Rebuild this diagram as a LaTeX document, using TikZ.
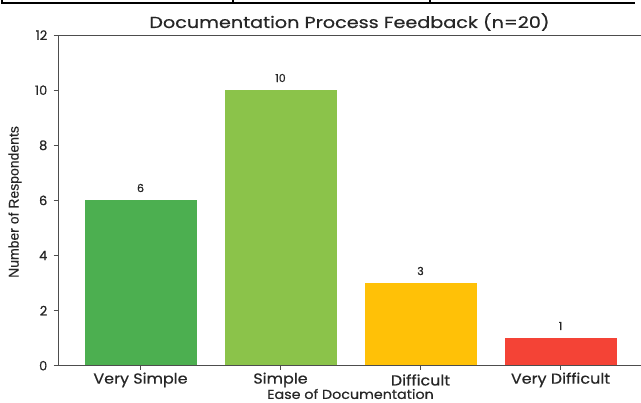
\documentclass[tikz,border=0pt]{standalone}
\usepackage{fontspec}
\setmainfont{Poppins}[FakeBold=0.5]
\newfontfamily\labfont{Liberation Sans}[FakeBold=0.3]
\definecolor{txt}{HTML}{262626}
\definecolor{spine}{HTML}{4D4D4D}
\definecolor{cA}{HTML}{4CAF50}
\definecolor{cB}{HTML}{8BC34A}
\definecolor{cC}{HTML}{FFC107}
\definecolor{cD}{HTML}{F44336}
\begin{document}
\begin{tikzpicture}[x=1pt,y=-1pt,
  ytick/.style={anchor=east,inner sep=0pt,font=\fontsize{13}{13}\selectfont,text=txt},
  xtick/.style={anchor=center,inner sep=0pt,font=\fontsize{14.5}{14.5}\selectfont,text=txt,xscale=1.1},
  vallab/.style={anchor=center,inner sep=0pt,font=\fontsize{11}{11}\selectfont,text=txt},
  axisline/.style={draw=spine,line width=1pt},
  tickmark/.style={draw=spine,line width=0.9pt}]
\useasboundingbox (0,0) rectangle (641,403);
% table fragment at the top
\draw[black,line width=1.2pt] (2,3) -- (635,3);
\draw[black,line width=1.2pt] (2,0) -- (2,3.6);
\draw[black,line width=1.2pt] (233,0) -- (233,3.6);
\draw[black,line width=1.2pt] (430,0) -- (430,3.6);
% title
\node[anchor=center,inner sep=0pt,font=\fontsize{16}{16}\selectfont,text=txt,xscale=1.2] (title) at (349.5,22) {Documentation Process Feedback (n=20)};
% bars
\fill[cA] (84.5,365.7) rectangle (196.5,200.4);
\fill[cB] (224.5,365.7) rectangle (336.5,90.2);
\fill[cC] (364.5,365.7) rectangle (476.5,283.05);
\fill[cD] (504.5,365.7) rectangle (616.5,338.15);
% value labels
\node[vallab] (v1) at (140.5,188) {6};
\node[vallab] (v2) at (280.5,78) {10};
\node[vallab] (v3) at (420.5,271) {3};
\node[vallab] (v4) at (560.5,326) {1};
% spines
\draw[axisline] (641,35.1) -- (58,35.1) -- (58,365.7) -- (641,365.7);
% y ticks
\foreach \v/\yy in {0/365.7,2/310.6,4/255.5,6/200.4,8/145.3,10/90.2,12/35.1}{
  \draw[tickmark] (53.5,\yy) -- (58,\yy);
  \node[ytick] (yt\v) at (47.5,\yy) {\v};
}
% x ticks
\foreach \i/\xx/\lab in {1/140.5/Very Simple,2/280.5/Simple,3/420.5/Difficult,4/560.5/Very Difficult}{
  \draw[tickmark] (\xx,365.7) -- (\xx,370.2);
  \node[xtick] (xt\i) at (\xx,380) {\lab};
}
% axis labels
\node[anchor=center,inner sep=0pt,font=\fontsize{13}{13}\selectfont,text=txt,xscale=1.1] (xlabel) at (350.5,394) {Ease of Documentation};
\node[anchor=center,inner sep=0pt,rotate=90,font=\labfont\fontsize{14}{14}\selectfont,text=txt] (ylabel) at (15,202) {Number of Respondents};
\end{tikzpicture}
\end{document}
